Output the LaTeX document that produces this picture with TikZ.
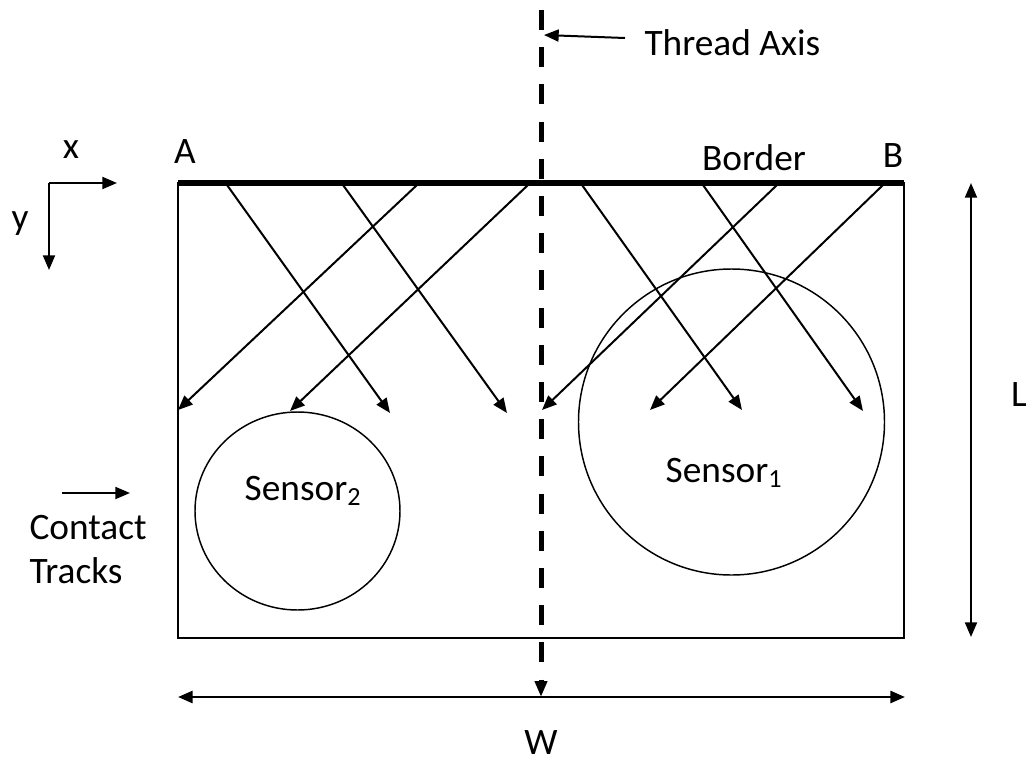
\documentclass[tikz,border=0pt]{standalone}
\usepackage{fontspec}
\setmainfont{Carlito}
\usetikzlibrary{arrows.meta}

\tikzset{every picture/.style={line width=0.75pt}}
\tikzset{
	ray/.style={line width=1.5pt, -{Triangle[length=11pt,width=9pt]}},
	dimline/.style={line width=1.5pt, {Triangle[length=11pt,width=9pt]}-{Triangle[length=11pt,width=9pt]}},
	lbl/.style={inner sep=0.75pt, font=\fontsize{28}{33}\selectfont}
}

\begin{document}
\begin{tikzpicture}[x=0.75pt,y=0.75pt,yscale=-1,xscale=1]
		\useasboundingbox (0,0) rectangle (1026,761);
		
		%Shape: Rectangle [plate]
		\draw [line width=1.1pt] (178,183) rectangle (904,638) ;
		%Shape: Circle [sensor 2]
		\draw [line width=1.1pt] (297.5,511) ellipse (102.5 and 99) ;
		%Shape: Circle [sensor 1]
		\draw [line width=1.1pt] (731.5,422) circle (153) ;
		%Border A--B
		\coordinate (A) at (178,183) ;
		\coordinate (B) at (904,183) ;
		\draw [line width=4.5pt] (A) -- (B) ;
		
		%Contact tracks from the border
		\coordinate (r1) at (227,185) ; \coordinate (t1) at (390,413) ;
		\coordinate (r2) at (343,185) ; \coordinate (t2) at (507,413) ;
		\coordinate (r3) at (417,185) ; \coordinate (t3) at (178,410) ;
		\coordinate (r4) at (528,185) ; \coordinate (t4) at (290,411) ;
		\coordinate (r5) at (582,185) ; \coordinate (t5) at (742,410) ;
		\coordinate (r6) at (703,185) ; \coordinate (t6) at (863,411) ;
		\coordinate (r7) at (777,185) ; \coordinate (t7) at (542,410) ;
		\coordinate (r8) at (883,185) ; \coordinate (t8) at (650,410) ;
		\draw [ray] (r1) -- (t1) ;
		\draw [ray] (r2) -- (t2) ;
		\draw [ray] (r3) -- (t3) ;
		\draw [ray] (r4) -- (t4) ;
		\draw [ray] (r5) -- (t5) ;
		\draw [ray] (r6) -- (t6) ;
		\draw [ray] (r7) -- (t7) ;
		\draw [ray] (r8) -- (t8) ;
		
		%Thread axis (dashed)
		\coordinate (axtop) at (541,10) ;
		\coordinate (axbot) at (541,697) ;
		\draw [line width=3.75pt, dash pattern={on 15pt off 12.9pt}, -{Triangle[length=12pt,width=9pt]}] (axtop) -- (axbot) ;
		\coordinate (thrtail) at (625,38) ;
		\coordinate (thrtip) at (544,35) ;
		\draw [ray] (thrtail) -- (thrtip) ;
		
		%Coordinate axes
		\coordinate (O) at (49,183) ;
		\coordinate (xend) at (117,183) ;
		\coordinate (yend) at (49,270) ;
		\draw [ray] (O) -- (xend) ;
		\draw [ray] (O) -- (yend) ;
		
		%Contact tracks pointer
		\coordinate (ctail) at (62,493) ;
		\coordinate (ctip) at (130,493) ;
		\draw [ray] (ctail) -- (ctip) ;
		
		%Dimensions
		\coordinate (Ltop) at (971,183) ;
		\coordinate (Lbot) at (971,637) ;
		\draw [dimline] (Ltop) -- (Lbot) ;
		\coordinate (Wleft) at (178,697) ;
		\coordinate (Wright) at (905,697) ;
		\draw [dimline, line width=2pt] (Wleft) -- (Wright) ;
		
		\node (thrlbl) [lbl, anchor=base west] at (643,55) {Thread Axis};
		\node (xlbl) [lbl, anchor=base] at (71,158) {x};
		\node (ylbl) [lbl, anchor=base] at (20,229) {y};
		\node (Albl) [lbl, anchor=base] at (185,163) {A};
		\node (Blbl) [lbl, anchor=base] at (893,167) {B};
		\node (borderlbl) [lbl, anchor=base] at (754,170) {Border};
		\node (s2lbl) [lbl, anchor=base] at (303,500) {Sensor\textsubscript{2}};
		\node (s1lbl) [lbl, anchor=base] at (724,482) {Sensor\textsubscript{1}};
		\node (ctlbl) [lbl, anchor=base west, align=left] at (28,583) {Contact\\Tracks};
		\node (Llbl) [lbl] at (1019,395) {L};
		\node (Wlbl) [lbl, anchor=base] at (541,754) {W};
		
\end{tikzpicture}
\end{document}
